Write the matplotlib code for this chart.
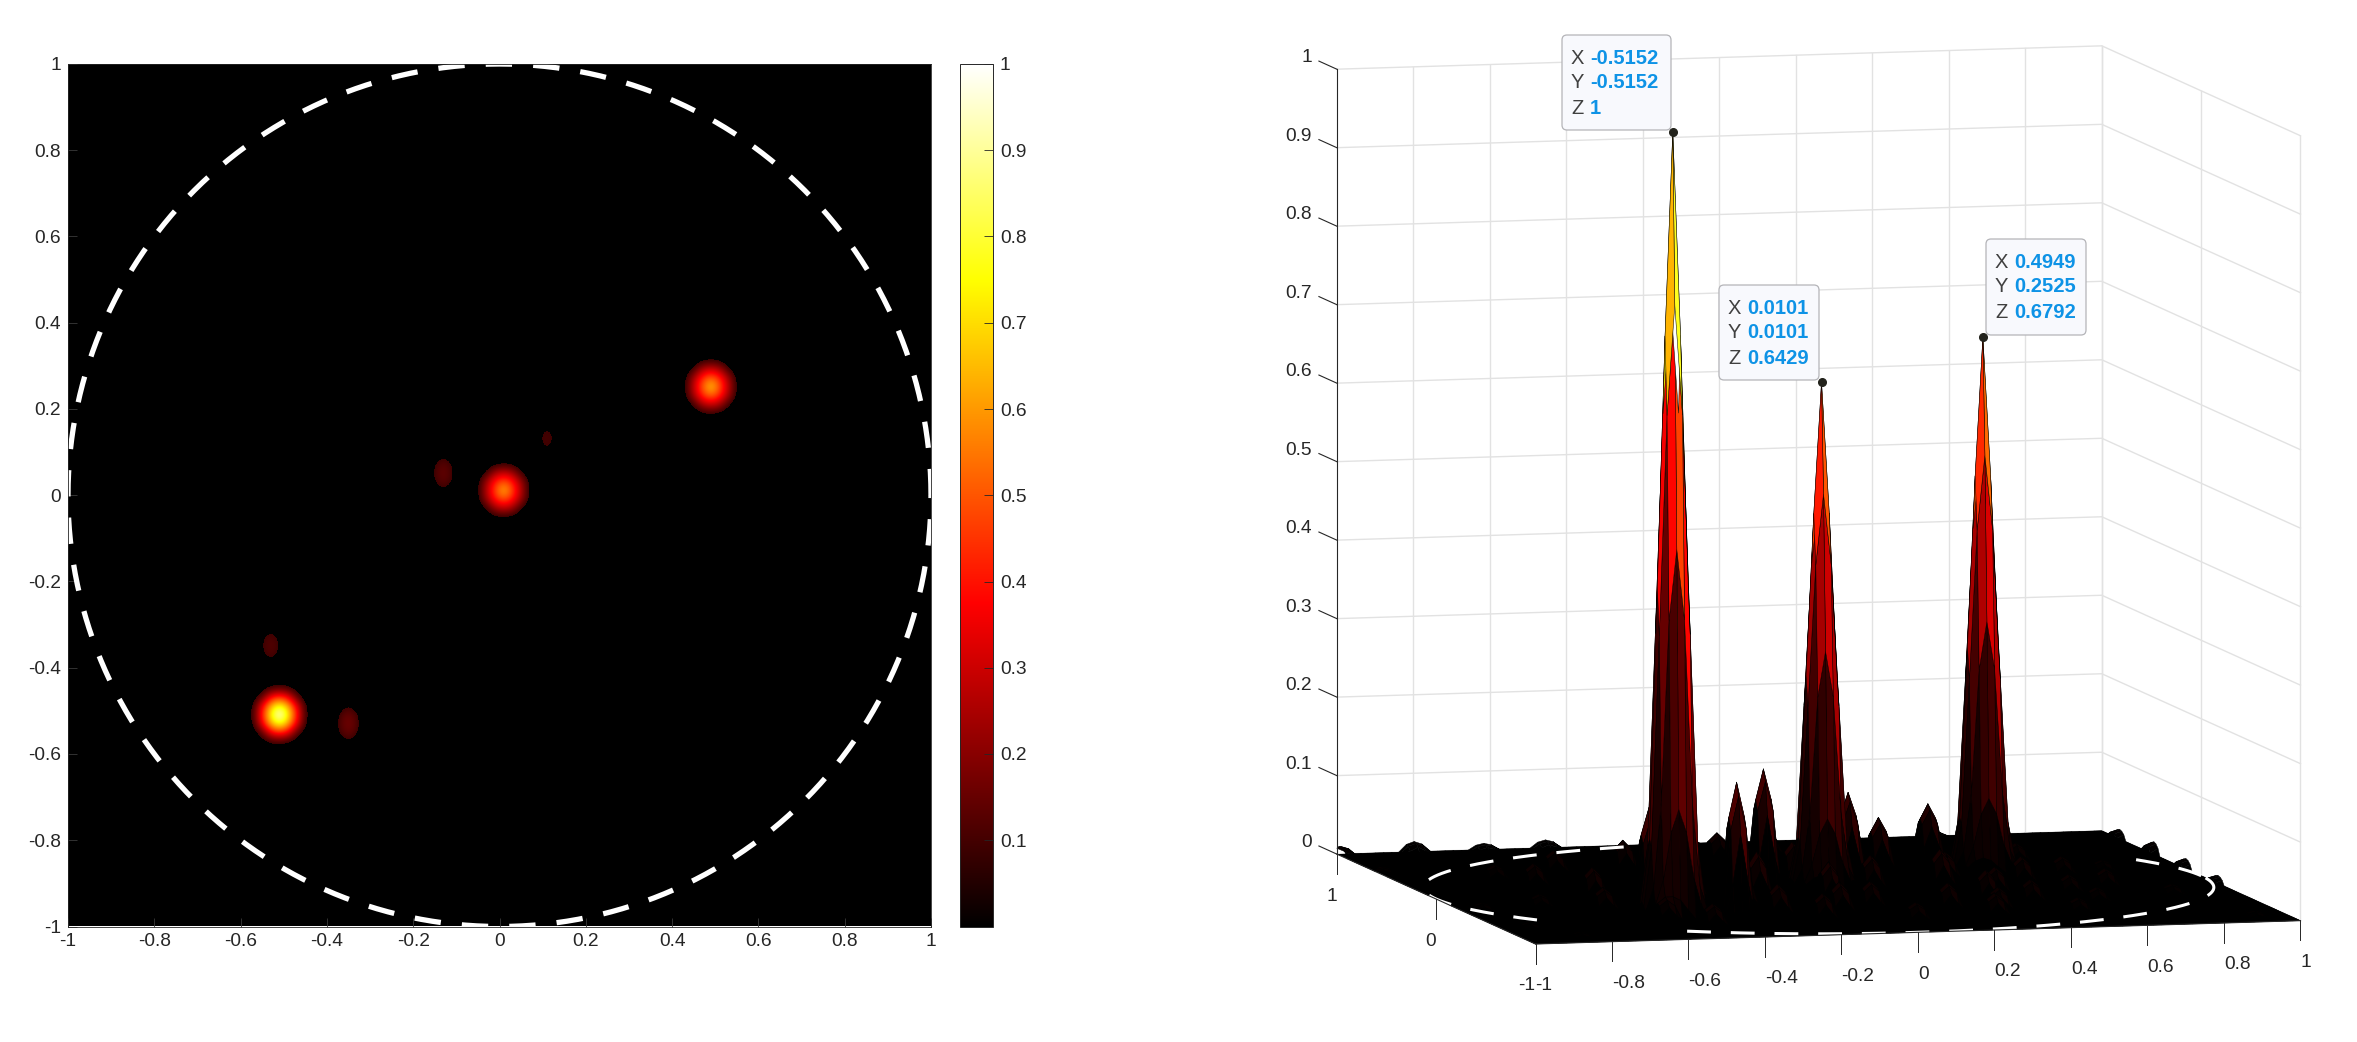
import numpy as np
import matplotlib
matplotlib.use("Agg")
import matplotlib.pyplot as plt
from matplotlib.cm import ScalarMappable
from matplotlib.colors import LinearSegmentedColormap, ListedColormap, Normalize
from matplotlib.patches import FancyBboxPatch
from mpl_toolkits.mplot3d import proj3d

plt.rcParams['font.family'] = ['Liberation Sans', 'DejaVu Sans']

# ---------- values ----------
grid_size = 100
peak_x = [-0.5152, 0.0101, 0.4949]
peak_y = [-0.5152, 0.0101, 0.2525]
peak_z = [1.0, 0.6429, 0.6792]
tip_x_text = ["-0.5152", "0.0101", "0.4949"]
tip_y_text = ["-0.5152", "0.0101", "0.2525"]
tip_z_text = ["1", "0.6429", "0.6792"]

# relative profile round a main peak, cell by cell
peak_shape = [
    [0.000, 0.012, 0.025, 0.030, 0.025, 0.012, 0.000, 0.000, 0.000],
    [0.000, 0.015, 0.050, 0.110, 0.140, 0.110, 0.050, 0.015, 0.000],
    [0.010, 0.040, 0.150, 0.380, 0.470, 0.380, 0.150, 0.040, 0.010],
    [0.015, 0.090, 0.360, 0.640, 0.780, 0.640, 0.360, 0.090, 0.015],
    [0.020, 0.100, 0.420, 0.740, 1.000, 0.740, 0.420, 0.100, 0.020],
    [0.015, 0.090, 0.360, 0.640, 0.780, 0.640, 0.360, 0.090, 0.015],
    [0.010, 0.040, 0.150, 0.380, 0.470, 0.380, 0.150, 0.040, 0.010],
    [0.000, 0.015, 0.050, 0.110, 0.140, 0.110, 0.050, 0.015, 0.000],
    [0.000, 0.000, 0.012, 0.025, 0.030, 0.025, 0.012, 0.000, 0.000],
]
lobe_shape = [
    [0.25, 0.62, 0.25],
    [0.65, 0.90, 0.65],
    [0.74, 1.00, 0.74],
    [0.65, 0.90, 0.65],
    [0.25, 0.62, 0.25],
]
# side lobes visible on the map
lobe_x = [-0.14, -0.35, -0.53, 0.11]
lobe_y = [0.06, -0.545, -0.35, 0.13]
lobe_z = [0.15, 0.17, 0.13, 0.112]
# low hills seen only in the surface
hill_x = [-0.116, 0.24, 0.41, -0.25, 0.06, 0.30, 0.62, -0.70, -0.42, -0.22, -0.05, 0.12,
          0.33, 0.52, 0.70, -0.62, -0.30, -0.10, 0.20, 0.44, 0.60, -0.48, -0.18, 0.05,
          0.28, 0.50, -0.75, 0.78, -0.40, 0.15, -0.80, 0.36, -0.03, -0.58,
          -0.66, -0.38, -0.12, 0.14, 0.40, 0.66, -0.56, -0.26, 0.02, 0.32, 0.58, 0.82]
hill_y = [0.60, 0.30, 0.50, 0.50, 0.72, -0.10, 0.40, 0.20, 0.10, -0.20, -0.30, -0.10,
          -0.40, -0.05, -0.20, -0.10, -0.35, -0.55, -0.55, -0.45, -0.50, -0.75, -0.70,
          -0.78, -0.72, -0.70, 0.35, 0.15, 0.45, 0.45, -0.25, 0.10, 0.15, 0.45,
          -0.35, -0.15, 0.25, 0.15, -0.25, 0.10, -0.60, -0.55, -0.48, -0.60, -0.30, -0.40]
hill_z = [0.037, 0.069, 0.072, 0.045, 0.030, 0.050, 0.025, 0.030, 0.055, 0.060, 0.050, 0.045,
          0.040, 0.035, 0.025, 0.040, 0.050, 0.040, 0.035, 0.030, 0.020, 0.030, 0.035,
          0.025, 0.030, 0.020, 0.020, 0.015, 0.040, 0.035, 0.018, 0.035, 0.050, 0.030,
          0.030, 0.045, 0.040, 0.045, 0.035, 0.025, 0.030, 0.040, 0.035, 0.030, 0.025, 0.015]
# small ripples along the border of the surface
edge_x = [-1.00, -1.00, -0.80, -0.62, -0.45, 0.55, 0.72, 1.00, 1.00, 1.00, 1.00,
          -0.85, -0.55, -0.95, -0.94, 0.90, 0.30, -0.10]
edge_y = [0.95, 0.55, 1.00, 1.00, 1.00, 1.00, 1.00, 0.82, 0.48, 0.16, -0.18,
          -0.90, -0.96, -0.30, -0.70, -0.92, 0.98, 1.00]
edge_z = [0.012, 0.010, 0.013, 0.008, 0.010, 0.006, 0.007, 0.012, 0.016, 0.013, 0.010,
          0.008, 0.006, 0.012, 0.010, 0.010, 0.005, 0.005]
map_threshold = 0.09
circle_hidden_deg = [(22, 105), (212, 236)]

x_ticks = [-1, -0.8, -0.6, -0.4, -0.2, 0, 0.2, 0.4, 0.6, 0.8, 1]
x_tick_text = ["-1", "-0.8", "-0.6", "-0.4", "-0.2", "0", "0.2", "0.4", "0.6", "0.8", "1"]
y_ticks = [1, 0, -1]
y_tick_text = ["1", "0", "-1"]
z_ticks = [0, 0.1, 0.2, 0.3, 0.4, 0.5, 0.6, 0.7, 0.8, 0.9, 1]
z_tick_text = ["0", "0.1", "0.2", "0.3", "0.4", "0.5", "0.6", "0.7", "0.8", "0.9", "1"]
bar_ticks = [0.1, 0.2, 0.3, 0.4, 0.5, 0.6, 0.7, 0.8, 0.9, 1]
bar_tick_text = ["0.1", "0.2", "0.3", "0.4", "0.5", "0.6", "0.7", "0.8", "0.9", "1"]

# ---------- assemble the field ----------
axis_values = np.linspace(-1, 1, grid_size)
Z = np.zeros((grid_size, grid_size))


def stamp(field, x, y, height, shape):
    shape = np.asarray(shape)
    ny, nx = shape.shape
    step = axis_values[1] - axis_values[0]
    cx = int(round((x + 1) / step))
    cy = int(round((y + 1) / step))
    for j in range(ny):
        for i in range(nx):
            r, c = cy + j - ny // 2, cx + i - nx // 2
            if 0 <= r < grid_size and 0 <= c < grid_size:
                field[r, c] = max(field[r, c], height * shape[j, i])


for px_, py_, pz_ in zip(peak_x, peak_y, peak_z):
    stamp(Z, px_, py_, pz_, peak_shape)
for lx, ly, lz in zip(lobe_x, lobe_y, lobe_z):
    stamp(Z, lx, ly, lz, lobe_shape)
for hx, hy, hz in zip(hill_x, hill_y, hill_z):
    stamp(Z, hx, hy, hz, lobe_shape)
for ex, ey, ez in zip(edge_x, edge_y, edge_z):
    stamp(Z, ex, ey, ez, lobe_shape)

hot = LinearSegmentedColormap.from_list(
    'hot_black', [(0, '#000000'), (0.375, '#ff0000'), (0.75, '#ffff00'), (1, '#ffffff')], N=1024)
map_colors = hot(np.linspace(0, 1, 1024))
map_colors[np.linspace(0, 1, 1024) < map_threshold] = (0, 0, 0, 1)
hot_map = ListedColormap(map_colors)
norm = Normalize(0, 1)

W, H = 2357, 1042
fig = plt.figure(figsize=(W / 100, H / 100), dpi=100, facecolor='white')


def rect(x0, y0, x1, y1):
    return [x0 / W, 1 - y1 / H, (x1 - x0) / W, (y1 - y0) / H]


FS = 13.8
TXT = '#262626'
# ---------- left map ----------
ax = fig.add_axes(rect(68, 64, 931, 926.5))
ax.imshow(Z, origin='lower', extent=(-1, 1, -1, 1), cmap=hot_map, norm=norm,
          interpolation='bicubic', interpolation_stage='data', aspect='auto')
t = np.linspace(0, 2 * np.pi, 721)
ax.plot(np.cos(t), np.sin(t), color='white', lw=3.8, linestyle=(0, (5.0, 4.0)),
        dash_capstyle='butt', clip_on=True)
ax.set_xlim(-1, 1)
ax.set_ylim(-1, 1)
ax.set_xticks(x_ticks, x_tick_text)
ax.set_yticks(x_ticks, x_tick_text)
ax.tick_params(direction='in', length=6.5, width=0.6, color='#3a3a3a', labelsize=FS,
               labelcolor=TXT, pad=5)
for s in ax.spines.values():
    s.set_linewidth(0.6)
    s.set_color(TXT)

cax = fig.add_axes(rect(960, 64, 993, 926.5))
cb = fig.colorbar(ScalarMappable(norm=norm, cmap=hot), cax=cax)
cb.set_ticks(bar_ticks, labels=bar_tick_text)
cax.tick_params(direction='in', length=6.5, width=0.6, color=TXT, labelsize=FS,
                labelcolor=TXT, pad=5)
cb.outline.set_linewidth(0.7)
cb.outline.set_edgecolor(TXT)

# ---------- right surface ----------
ax3 = fig.add_axes([0.5, 0.05, 0.45, 0.9], projection='3d', computed_zorder=False)
ax3.set_proj_type('ortho')
ax3.view_init(elev=6.75, azim=-104.56)
ax3.set_box_aspect((1, 1, 1))
ax3.set_xlim(-1, 1)
ax3.set_ylim(-1, 1)
ax3.set_zlim(0, 1)
ax3.set_axis_off()
ax3.patch.set_alpha(0)


def to_px(x, y, z):
    ax3.apply_aspect()
    xx, yy, _ = proj3d.proj_transform(x, y, z, ax3.get_proj())
    return ax3.transData.transform((xx, yy))


# place the box so that its floor corners land where they are in the reference
target_front = np.array([1535.5, H - 944.0])
target_right = np.array([2300.5, H - 921.0])
for _ in range(3):
    fig.canvas.draw()
    pf, pr = to_px(-1, -1, 0), to_px(1, -1, 0)
    s = np.hypot(*(target_right - target_front)) / np.hypot(*(pr - pf))
    bb = ax3.get_position()
    side = bb.width * W * s
    sh = target_front - pf
    cx, cy = bb.x0 * W + bb.width * W / 2, bb.y0 * H + bb.height * H / 2
    cx2, cy2 = cx + (pf[0] - cx) * (1 - s) + sh[0], cy + (pf[1] - cy) * (1 - s) + sh[1]
    ax3.set_position([(cx2 - side / 2) / W, (cy2 - side / 2) / H, side / W, side / H])
fig.canvas.draw()

GRID = '#e2e2e2'
for zv in z_ticks:
    ax3.plot([-1, 1, 1], [1, 1, -1], [zv, zv, zv], color=GRID, lw=1.0, zorder=0, clip_on=False)
for xv in x_ticks[1:]:
    ax3.plot([xv, xv], [1, 1], [0, 1], color=GRID, lw=1.0, zorder=0, clip_on=False)
for yv in y_ticks:
    ax3.plot([1, 1], [yv, yv], [0, 1], color=GRID, lw=1.0, zorder=0, clip_on=False)

XX, YY = np.meshgrid(axis_values, axis_values)
# black floor under the surface, so that no seam between facets shows white
ax3.plot_surface(np.array([[-1, 1], [-1, 1]]), np.array([[-1, -1], [1, 1]]), np.zeros((2, 2)),
                 color='black', shade=False, linewidth=0, zorder=0.5)
# each facet takes the colour of its first corner, as a flat-shaded surface does
ax3.plot_surface(XX, YY, Z, rstride=1, cstride=1, facecolors=hot(norm(Z)), shade=False,
                 edgecolor='black', linewidth=0.35, antialiased=True, zorder=1)

theta = np.deg2rad(np.arange(0, 360.5, 0.5))
cx_ = np.cos(theta)
cy_ = np.sin(theta)
deg = np.rad2deg(theta)
for lo, hi in circle_hidden_deg:
    cx_[(deg > lo) & (deg < hi)] = np.nan
ax3.plot(cx_, cy_, np.zeros_like(cx_), color='white', lw=2.2, linestyle=(0, (7.8, 6.5)),
         dash_capstyle='butt', zorder=2, clip_on=False)

AX_C = '#262626'
ax3.plot([-1, -1], [1, 1], [0, 1], color=AX_C, lw=0.8, zorder=3, clip_on=False)
ax3.plot([-1, 1], [-1, -1], [0, 0], color=AX_C, lw=0.8, zorder=3, clip_on=False)
ax3.plot([-1, -1], [1, -1], [0, 0], color=AX_C, lw=0.8, zorder=3, clip_on=False)
for zv in z_ticks:
    ax3.plot([-1, -1], [1, 1.18], [zv, zv], color=AX_C, lw=0.8, zorder=3, clip_on=False)
for xv in x_ticks:
    ax3.plot([xv, xv], [-1, -1], [0, -0.025], color=AX_C, lw=0.7, zorder=3, clip_on=False)
for yv in y_ticks:
    ax3.plot([-1, -1], [yv, yv], [0, -0.025], color=AX_C, lw=0.7, zorder=3, clip_on=False)

ax3.plot(peak_x, peak_y, peak_z, linestyle='none', marker='o', ms=5.5, mfc='#23231c',
         mec='#23231c', zorder=4, clip_on=False)

# ---------- overlay in pixels: tick labels of the surface and data tips ----------
over = fig.add_axes([0, 0, 1, 1], zorder=10)
over.set_xlim(0, W)
over.set_ylim(H, 0)
over.axis('off')
over.patch.set_alpha(0)


def label3d(x, y, z, text, ha):
    px, py = to_px(x, y, z)
    over.text(px, H - py, text, ha=ha, va='center', fontsize=FS, color=TXT)


for zv, lab in zip(z_ticks, z_tick_text):
    label3d(-1, 1.25, zv, lab, 'right')
for xv, lab in zip(x_ticks, x_tick_text):
    label3d(xv, -1, -0.0535, lab, 'left')
for yv, lab in zip(y_ticks, y_tick_text):
    label3d(-1, yv, -0.0535, lab, 'right')

tip_boxes = [(1562, 35, 1671, 130), (1719, 285, 1819, 380), (1986, 239, 2086, 335)]
for (x0, y0, x1, y1), tx, ty, tz in zip(tip_boxes, tip_x_text, tip_y_text, tip_z_text):
    over.add_patch(FancyBboxPatch((x0, y0), x1 - x0, y1 - y0,
                                  boxstyle='round,pad=0,rounding_size=5',
                                  fc='#f8f9fd', ec='#b4b4b8', lw=0.9))
    for k, (name, value) in enumerate(zip("XYZ", (tx, ty, tz))):
        yy = y0 + 23 + 25 * k
        over.text(x0 + 9, yy, name, ha='left', va='center', fontsize=14.5, color='#404040')
        over.text(x0 + 28, yy, value, ha='left', va='center', fontsize=14.5,
                  color='#0e93e6', fontweight='bold')

fig.savefig('out.png', dpi=100)
